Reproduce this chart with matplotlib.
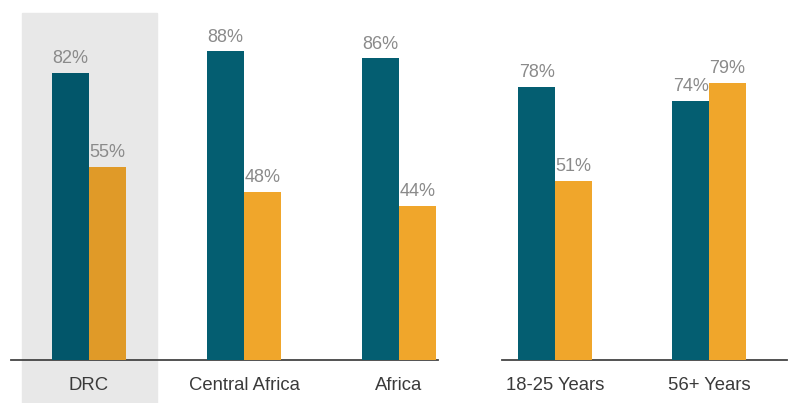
import matplotlib.pyplot as plt
from matplotlib.patches import Rectangle

plt.rcParams['font.family'] = ['Liberation Sans', 'DejaVu Sans']

# data
region_labels = ['DRC', 'Central Africa', 'Africa']
region_a = [82, 88, 86]
region_b = [55, 48, 44]

age_labels = ['18-25 Years', '56+ Years']
age_a = [78, 74]
age_b = [51, 79]

TEAL = '#045e71'
ORANGE = '#f0a62b'
TEAL_HL = '#02566a'
ORANGE_HL = '#e09a28'
HL_GRAY = '#e8e8e8'
VAL_GRAY = '#8a8a8a'
CAT_GRAY = '#3a3a3a'

W, H = 790, 403
fig = plt.figure(figsize=(W / 100, H / 100), dpi=100)

base_y = 360
px_per_pct = 3.506
ymax = base_y / px_per_pct
bw = 37 / 155


def make_ax(x0, x1, xlim):
    ax = fig.add_axes([x0 / W, (H - base_y) / H, (x1 - x0) / W, base_y / H])
    ax.set_facecolor('none')
    ax.set_xlim(*xlim)
    ax.set_ylim(0, ymax)
    for s in ['top', 'right', 'left']:
        ax.spines[s].set_visible(False)
    ax.spines['bottom'].set_color('#444444')
    ax.spines['bottom'].set_linewidth(1.3)
    ax.set_xticks([])
    ax.set_yticks([])
    return ax


def draw_group(ax, labels, a, b, hl=None):
    for i, lab in enumerate(labels):
        ca = TEAL_HL if i == hl else TEAL
        cb = ORANGE_HL if i == hl else ORANGE
        ax.bar(i - bw / 2, a[i], width=bw, color=ca, zorder=3)
        ax.bar(i + bw / 2, b[i], width=bw, color=cb, zorder=3)
        for x, v in [(i - bw / 2, a[i]), (i + bw / 2, b[i])]:
            ax.annotate(f'{v}%', (x, v), xytext=(0, 7), textcoords='offset points',
                        ha='center', va='baseline', fontsize=13, color=VAL_GRAY)
        ax.annotate(lab, (i, 0), xytext=(0, -21.6), textcoords='offset points',
                    ha='center', va='baseline', fontsize=13.3, color=CAT_GRAY,
                    annotation_clip=False)


# highlight box behind DRC
fig.patches.append(Rectangle((22 / W, 0), (157 - 22) / W, (H - 13) / H,
                             transform=fig.transFigure, color=HL_GRAY, zorder=-5))

ax1 = make_ax(11, 438, (-0.503, 2.252))
draw_group(ax1, region_labels, region_a, region_b, hl=0)

ax2 = make_ax(502, 787, (-0.344, 1.506))
draw_group(ax2, age_labels, age_a, age_b)

fig.savefig('out.png', dpi=100)
